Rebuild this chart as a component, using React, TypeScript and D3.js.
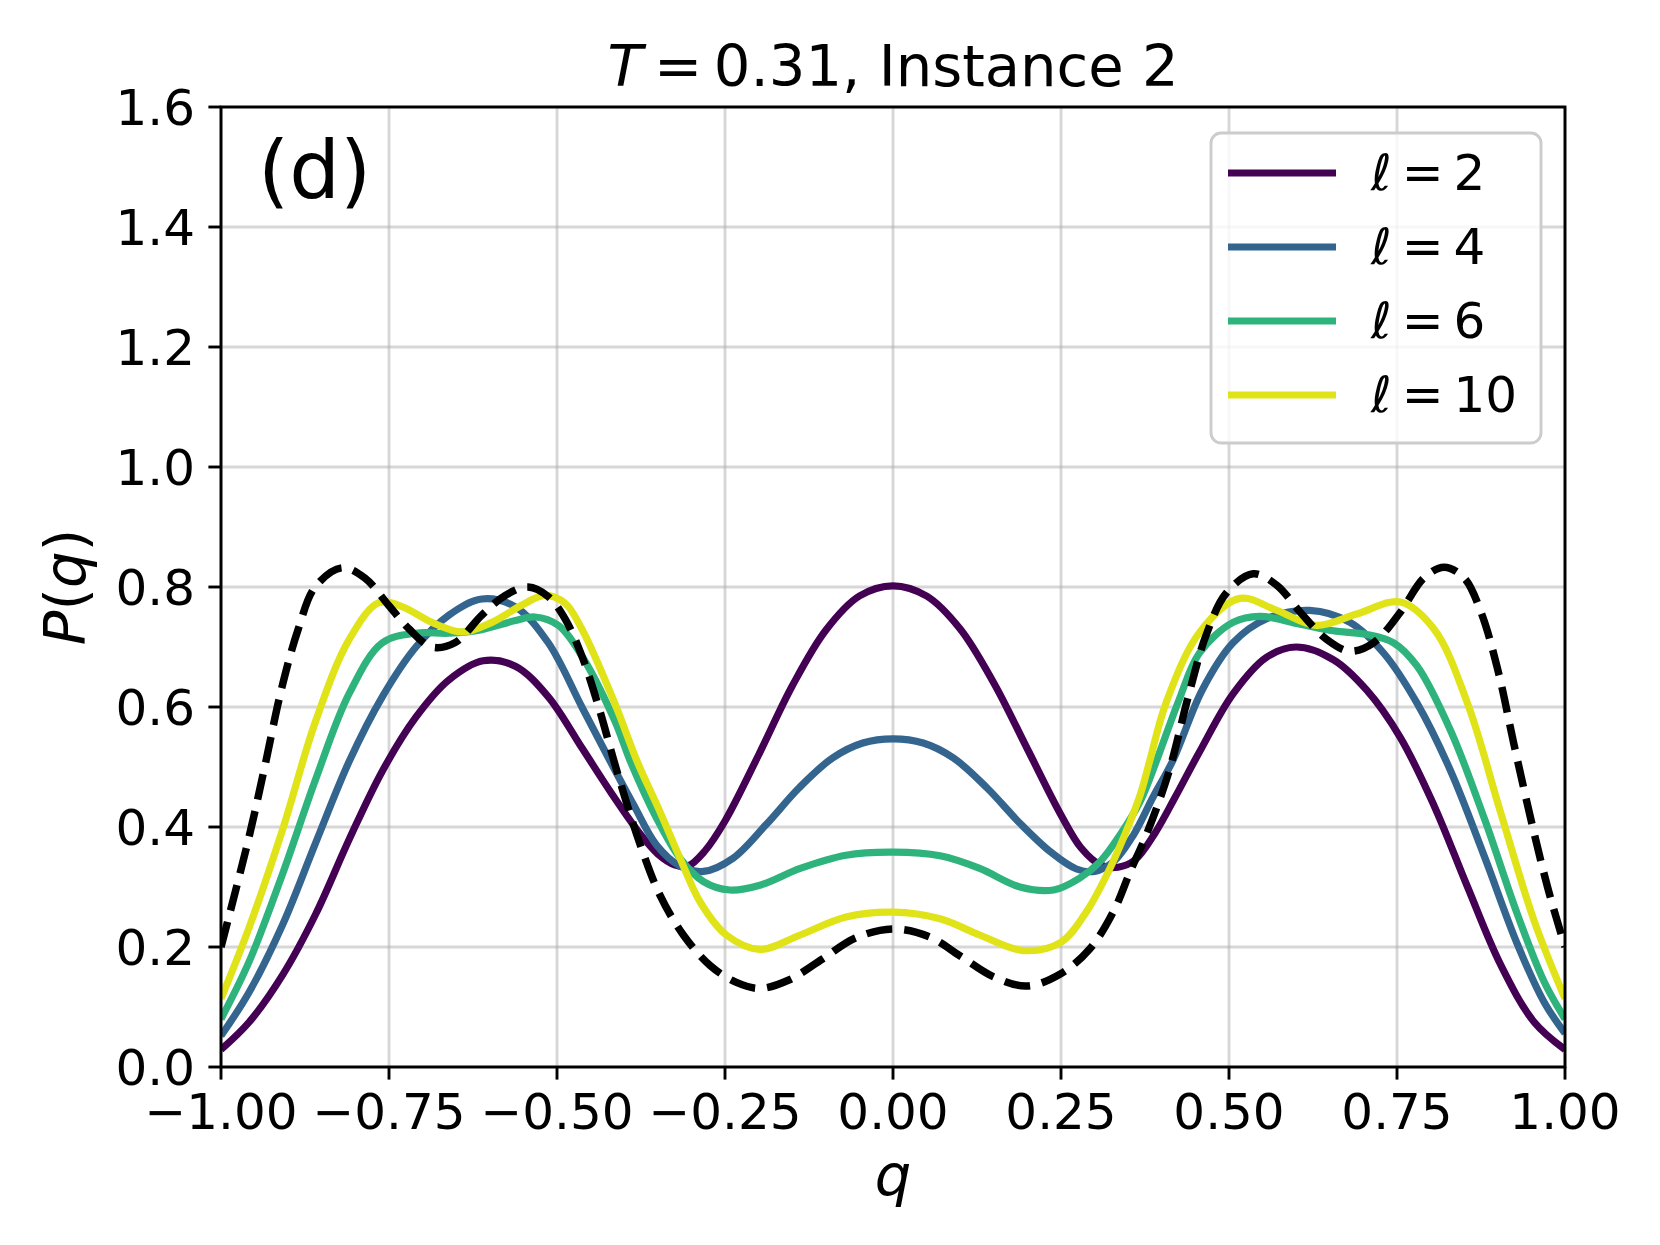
import React from "react";
import * as d3 from "d3";

type Pt = [number, number];

// P(q), per series
const ell2: Pt[] = [
  [-1, 0.029], [-0.958, 0.075], [-0.908, 0.154], [-0.859, 0.255], [-0.809, 0.38],
  [-0.76, 0.493], [-0.71, 0.583], [-0.661, 0.645], [-0.61, 0.677], [-0.562, 0.668],
  [-0.513, 0.617], [-0.463, 0.532], [-0.42, 0.458], [-0.38, 0.394], [-0.35, 0.355],
  [-0.325, 0.337], [-0.305, 0.335], [-0.28, 0.36], [-0.25, 0.41], [-0.2, 0.52],
  [-0.15, 0.635], [-0.1, 0.728], [-0.05, 0.785], [0, 0.802], [0.05, 0.785],
  [0.1, 0.73], [0.15, 0.64], [0.2, 0.53], [0.25, 0.42], [0.28, 0.365],
  [0.31, 0.336], [0.335, 0.333], [0.36, 0.345], [0.39, 0.39], [0.42, 0.45],
  [0.456, 0.525], [0.506, 0.622], [0.556, 0.683], [0.6, 0.7], [0.655, 0.679],
  [0.705, 0.628], [0.755, 0.549], [0.805, 0.436], [0.855, 0.3], [0.904, 0.171],
  [0.954, 0.075], [1, 0.029],
];

const ell4: Pt[] = [
  [-1, 0.052], [-0.958, 0.125], [-0.908, 0.238], [-0.859, 0.374], [-0.809, 0.51],
  [-0.76, 0.617], [-0.71, 0.7], [-0.661, 0.753], [-0.612, 0.78], [-0.562, 0.767],
  [-0.513, 0.707], [-0.463, 0.6], [-0.421, 0.51], [-0.386, 0.437], [-0.352, 0.37],
  [-0.317, 0.335], [-0.282, 0.326], [-0.238, 0.348], [-0.188, 0.405], [-0.14, 0.465],
  [-0.09, 0.515], [-0.045, 0.54], [0, 0.547], [0.045, 0.54], [0.09, 0.515],
  [0.14, 0.465], [0.19, 0.405], [0.235, 0.358], [0.273, 0.33], [0.3, 0.326],
  [0.328, 0.342], [0.358, 0.387], [0.387, 0.45], [0.417, 0.512], [0.46, 0.628],
  [0.506, 0.707], [0.556, 0.747], [0.62, 0.761], [0.68, 0.741], [0.73, 0.69],
  [0.78, 0.606], [0.83, 0.493], [0.88, 0.351], [0.929, 0.205], [0.969, 0.108],
  [1, 0.056],
];

const ell6: Pt[] = [
  [-1, 0.08], [-0.958, 0.176], [-0.908, 0.323], [-0.859, 0.48], [-0.809, 0.623],
  [-0.76, 0.707], [-0.71, 0.723], [-0.661, 0.723], [-0.612, 0.729], [-0.562, 0.744],
  [-0.533, 0.75], [-0.498, 0.736], [-0.463, 0.685], [-0.414, 0.577], [-0.391, 0.51],
  [-0.352, 0.415], [-0.317, 0.348], [-0.282, 0.309], [-0.243, 0.295], [-0.198, 0.303],
  [-0.138, 0.331], [-0.07, 0.353], [0, 0.358], [0.07, 0.352], [0.129, 0.331],
  [0.189, 0.3], [0.239, 0.295], [0.278, 0.315], [0.308, 0.342], [0.338, 0.387],
  [0.368, 0.443], [0.392, 0.51], [0.425, 0.61], [0.456, 0.69], [0.506, 0.741],
  [0.546, 0.751], [0.606, 0.738], [0.655, 0.727], [0.705, 0.721], [0.745, 0.707],
  [0.78, 0.668], [0.83, 0.56], [0.88, 0.414], [0.929, 0.255], [0.969, 0.142],
  [1, 0.08],
];

const ell10: Pt[] = [
  [-1, 0.114], [-0.958, 0.233], [-0.908, 0.397], [-0.859, 0.577], [-0.809, 0.713],
  [-0.765, 0.774], [-0.73, 0.767], [-0.686, 0.741], [-0.641, 0.725], [-0.597, 0.741],
  [-0.552, 0.77], [-0.518, 0.786], [-0.488, 0.773], [-0.463, 0.73], [-0.414, 0.606],
  [-0.381, 0.51], [-0.347, 0.426], [-0.317, 0.348], [-0.287, 0.275], [-0.248, 0.22],
  [-0.198, 0.196], [-0.138, 0.22], [-0.07, 0.25], [0, 0.258], [0.07, 0.247],
  [0.129, 0.22], [0.194, 0.194], [0.25, 0.208], [0.288, 0.259], [0.318, 0.32],
  [0.343, 0.382], [0.368, 0.454], [0.382, 0.51], [0.406, 0.606], [0.456, 0.724],
  [0.516, 0.781], [0.571, 0.761], [0.63, 0.736], [0.69, 0.755], [0.755, 0.775],
  [0.805, 0.73], [0.855, 0.606], [0.904, 0.425], [0.954, 0.244], [1, 0.114],
];

const exact: Pt[] = [
  [-1, 0.2], [-0.959, 0.38], [-0.935, 0.5], [-0.91, 0.63], [-0.885, 0.73],
  [-0.86, 0.8], [-0.82, 0.832], [-0.786, 0.815], [-0.751, 0.77], [-0.72, 0.73],
  [-0.686, 0.7], [-0.652, 0.707], [-0.612, 0.753], [-0.577, 0.786], [-0.543, 0.8],
  [-0.513, 0.784], [-0.488, 0.747], [-0.463, 0.685], [-0.438, 0.6], [-0.41, 0.49],
  [-0.376, 0.37], [-0.347, 0.287], [-0.312, 0.22], [-0.272, 0.169], [-0.233, 0.141],
  [-0.198, 0.131], [-0.155, 0.145], [-0.105, 0.18], [-0.056, 0.215], [0, 0.23],
  [0.054, 0.217], [0.1, 0.185], [0.15, 0.15], [0.199, 0.135], [0.249, 0.155],
  [0.293, 0.197], [0.328, 0.259], [0.353, 0.326], [0.377, 0.387], [0.41, 0.49],
  [0.44, 0.62], [0.466, 0.72], [0.496, 0.79], [0.536, 0.822], [0.571, 0.803],
  [0.606, 0.758], [0.645, 0.713], [0.68, 0.693], [0.715, 0.707], [0.755, 0.758],
  [0.79, 0.815], [0.82, 0.833], [0.85, 0.815], [0.875, 0.758], [0.9, 0.662],
  [0.924, 0.538], [0.949, 0.414], [0.974, 0.3], [1, 0.2],
];

const series = [
  { label: "2", data: ell2, color: "#440154" },
  { label: "4", data: ell4, color: "#33658f" },
  { label: "6", data: ell6, color: "#2eb37c" },
  { label: "10", data: ell10, color: "#dfe318" },
];

const xTicks = [-1, -0.75, -0.5, -0.25, 0, 0.25, 0.5, 0.75, 1];
const yTicks = [0, 0.2, 0.4, 0.6, 0.8, 1.0, 1.2, 1.4, 1.6];

const W = 1660;
const H = 1245;
const box = { left: 221, right: 1565, top: 107, bottom: 1067 };
const font = "DejaVu Sans, sans-serif";

export default function App() {
  const x = d3.scaleLinear().domain([-1, 1]).range([box.left, box.right]);
  const y = d3.scaleLinear().domain([0, 1.6]).range([box.bottom, box.top]);

  const line = d3
    .line<Pt>()
    .x((d) => x(d[0]))
    .y((d) => y(d[1]))
    .curve(d3.curveCatmullRom.alpha(0.5));

  const fmtX = (v: number) => d3.format(".2f")(v).replace("-", "\u2212");
  const fmtY = d3.format(".1f");

  const legX = 1211;
  const legY = 133;
  const rowGap = 74;

  return (
    <svg
      width={W}
      height={H}
      style={{ position: "absolute", left: 0, top: 0, background: "white" }}
      fontFamily={font}
    >
      <rect width={W} height={H} fill="white" />

      <defs>
        <clipPath id="plot-clip">
          <rect x={box.left} y={box.top} width={box.right - box.left} height={box.bottom - box.top} />
        </clipPath>
      </defs>

      {/* grid */}
      <g stroke="#b0b0b0" strokeOpacity={0.5} strokeWidth={2.9}>
        {xTicks.map((t) => (
          <line key={"gx" + t} x1={x(t)} x2={x(t)} y1={box.top} y2={box.bottom} />
        ))}
        {yTicks.map((t) => (
          <line key={"gy" + t} x1={box.left} x2={box.right} y1={y(t)} y2={y(t)} />
        ))}
      </g>

      {/* curves */}
      <g clipPath="url(#plot-clip)">
        {series.map((s) => (
          <path
            key={s.label}
            d={line(s.data) || ""}
            fill="none"
            stroke={s.color}
            strokeWidth={7.2}
            strokeLinejoin="round"
          />
        ))}
        <path
          d={line(exact) || ""}
          fill="none"
          stroke="black"
          strokeWidth={7.5}
          strokeDasharray="26 12"
        />
      </g>

      {/* frame */}
      <rect
        x={box.left}
        y={box.top}
        width={box.right - box.left}
        height={box.bottom - box.top}
        fill="none"
        stroke="black"
        strokeWidth={2.9}
      />

      {/* x ticks */}
      {xTicks.map((t) => (
        <g key={"xt" + t} transform={`translate(${x(t)},${box.bottom})`}>
          <line y2={12.6} stroke="black" strokeWidth={2.9} />
          <text y={62} textAnchor="middle" fontSize={50}>
            {fmtX(t)}
          </text>
        </g>
      ))}

      {/* y ticks */}
      {yTicks.map((t) => (
        <g key={"yt" + t} transform={`translate(${box.left},${y(t)})`}>
          <line x2={-12.6} stroke="black" strokeWidth={2.9} />
          <text x={-26} dy="0.36em" textAnchor="end" fontSize={50}>
            {fmtY(t)}
          </text>
        </g>
      ))}

      {/* labels */}
      <text x={(box.left + box.right) / 2} y={1195} textAnchor="middle" fontSize={57.6} fontStyle="italic">
        q
      </text>
      <text transform={`translate(85,${(box.top + box.bottom) / 2}) rotate(-90)`} textAnchor="middle" fontSize={57.6}>
        <tspan fontStyle="italic">P</tspan>
        <tspan>(</tspan>
        <tspan fontStyle="italic">q</tspan>
        <tspan>)</tspan>
      </text>
      <text x={(box.left + box.right) / 2} y={86} textAnchor="middle" fontSize={57.6}>
        <tspan fontStyle="italic">T</tspan>
        <tspan>{"\u2009=\u20090.31, Instance 2"}</tspan>
      </text>
      <text x={258} y={198} fontSize={80}>
        (d)
      </text>

      {/* legend */}
      <rect
        x={legX}
        y={legY}
        width={330}
        height={310}
        rx={10}
        fill="white"
        fillOpacity={0.8}
        stroke="#cccccc"
        strokeWidth={2.9}
      />
      {series.map((s, i) => {
        const ly = 173 + i * rowGap;
        return (
          <g key={"lg" + s.label}>
            <line x1={1228} x2={1336} y1={ly} y2={ly} stroke={s.color} strokeWidth={7.2} />
            <text x={1371} y={ly + 17} fontSize={50}>
              <tspan fontStyle="italic">{"\u2113"}</tspan>
              <tspan>{"\u2009=\u2009" + s.label}</tspan>
            </text>
          </g>
        );
      })}
    </svg>
  );
}
